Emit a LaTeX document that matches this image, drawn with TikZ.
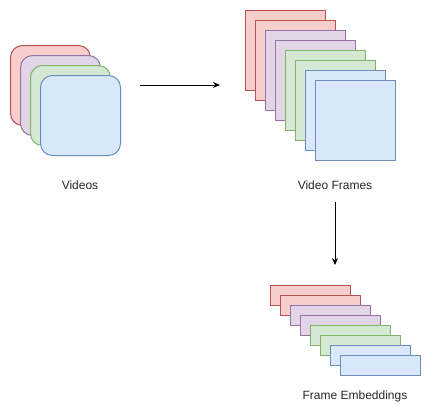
\documentclass[tikz,border=0pt]{standalone}
\usepackage{fontspec}
\setmainfont{Liberation Sans}
\usetikzlibrary{arrows.meta}
\definecolor{redfill}{HTML}{F8CECC}
\definecolor{redline}{HTML}{B85450}
\definecolor{purplefill}{HTML}{E1D5E7}
\definecolor{purpleline}{HTML}{9673A6}
\definecolor{greenfill}{HTML}{D5E8D4}
\definecolor{greenline}{HTML}{82B366}
\definecolor{bluefill}{HTML}{DAE8FC}
\definecolor{blueline}{HTML}{6C8EBF}
\begin{document}
\begin{tikzpicture}
  [x=1pt,y=-1pt,
   every node/.style={inner sep=0pt,line width=1pt},
   video/.style={draw,anchor=north west,minimum width=80pt,minimum height=80pt,rounded corners=12pt},
   frame/.style={draw,anchor=north west,minimum width=80pt,minimum height=80pt},
   embed/.style={draw,anchor=north west,minimum width=80pt,minimum height=20pt},
   txt/.style={font=\fontsize{12}{14}\selectfont,text=black!85},
   flow/.style={line width=1pt,-{Stealth[length=7pt,width=6pt]}}]
  \useasboundingbox (0,0) rectangle (431,416);

  % videos
  \foreach \i/\col in {1/red,2/purple,3/green,4/blue}
    \node (v\i)[video,fill=\col fill,draw=\col line] at ({10*\i},{35+10*\i}) {};
  \node (tv)[txt] at (80,185) {Videos};

  % video frames
  \foreach \i/\col in {1/red,2/red,3/purple,4/purple,5/green,6/green,7/blue,8/blue}
    \node (f\i)[frame,fill=\col fill,draw=\col line] at ({235+10*\i},{10*\i}) {};
  \node (tf)[txt] at (335,185) {Video Frames};

  % frame embeddings
  \foreach \i/\col in {1/red,2/red,3/purple,4/purple,5/green,6/green,7/blue,8/blue}
    \node (e\i)[embed,fill=\col fill,draw=\col line] at ({260+10*\i},{275+10*\i}) {};
  \node (te)[txt] at (355,396) {Frame Embeddings};

  \coordinate (a1) at (140,85);
  \coordinate (a2) at (220,85);
  \coordinate (b1) at (335,202);
  \coordinate (b2) at (335,265);
  \draw[flow] (a1) -- (a2);
  \draw[flow] (b1) -- (b2);

\end{tikzpicture}
\end{document}
